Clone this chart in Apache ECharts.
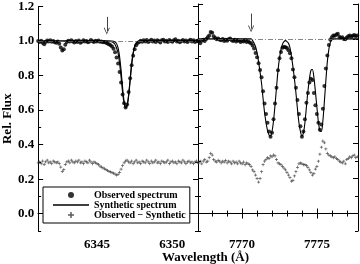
<!DOCTYPE html>
<html>
<head>
<meta charset="utf-8">
<script src="https://cdn.jsdelivr.net/npm/echarts@6/dist/echarts.min.js"></script>
<style>html,body{margin:0;padding:0;background:#fff}#main{width:360px;height:264px}</style>
</head>
<body>
<div id="main"></div>
<script>
// 光谱数据：等间隔采样，起点 + 步长 + 数值
var stepLeft = 0.1, startLeft = 6341.1;
var stepRight = 0.1, startRight = 7767.1;
var rangeLeft = [6341.1, 6351.7];
var rangeRight = [7767.05, 7777.75];

var obsLeft = [1.000,0.995,1.002,0.990,0.982,0.995,1.003,0.998,1.004,0.996,
  1.000,0.993,0.990,0.998,0.985,0.962,0.945,0.952,0.978,0.995,
  1.002,0.997,1.005,0.998,0.992,1.000,0.995,1.003,0.990,0.996,
  1.004,0.998,1.000,0.993,0.998,1.006,0.999,0.994,1.002,0.997,
  1.003,0.996,0.998,0.993,0.995,0.990,0.986,0.982,0.975,0.968,
  0.955,0.935,0.905,0.870,0.820,0.760,0.690,0.640,0.615,0.632,
  0.705,0.785,0.860,0.915,0.952,0.975,0.988,0.995,1.002,0.996,
  1.004,0.998,1.006,0.994,1.000,1.008,0.997,1.003,0.995,1.005,
  1.000,0.992,1.004,1.008,0.998,1.002,0.995,1.006,1.000,0.996,
  1.004,1.010,0.998,1.002,0.993,1.000,1.006,0.997,1.003,0.995,
  1.002,1.007,0.998,1.004,0.994,1.000,1.003];

var resLeft = [0.295,0.300,0.290,0.305,0.285,0.300,0.310,0.295,0.300,0.290,
  0.305,0.300,0.295,0.300,0.290,0.270,0.245,0.255,0.285,0.300,
  0.305,0.295,0.310,0.300,0.295,0.305,0.300,0.310,0.295,0.300,
  0.290,0.305,0.300,0.295,0.310,0.300,0.290,0.300,0.295,0.290,
  0.285,0.275,0.270,0.265,0.260,0.255,0.250,0.245,0.242,0.238,
  0.235,0.230,0.224,0.228,0.240,0.258,0.278,0.295,0.305,0.310,
  0.300,0.295,0.305,0.290,0.300,0.310,0.295,0.300,0.290,0.305,
  0.300,0.295,0.310,0.300,0.290,0.305,0.295,0.300,0.310,0.295,
  0.300,0.290,0.305,0.300,0.295,0.300,0.310,0.290,0.300,0.305,
  0.295,0.300,0.290,0.305,0.300,0.295,0.310,0.300,0.290,0.300,
  0.305,0.295,0.300,0.290,0.300,0.305,0.295];

var obsRight = [0.985,0.975,0.990,0.995,0.988,1.000,1.010,1.020,1.040,1.035,
  1.015,1.005,0.998,1.002,0.995,0.992,1.000,0.988,0.995,0.990,
  0.998,1.002,0.993,0.988,0.995,0.985,0.992,0.990,0.983,0.990,
  0.985,0.992,0.982,0.988,0.980,0.975,0.962,0.945,0.920,0.895,
  0.860,0.822,0.780,0.700,0.630,0.570,0.520,0.470,0.440,0.462,
  0.540,0.630,0.720,0.820,0.890,0.925,0.950,0.955,0.952,0.948,
  0.935,0.918,0.890,0.825,0.780,0.720,0.650,0.570,0.500,0.440,
  0.470,0.540,0.635,0.690,0.750,0.772,0.765,0.690,0.620,0.570,
  0.520,0.480,0.510,0.600,0.730,0.830,0.905,0.965,0.995,1.010,
  1.020,1.018,1.025,1.030,1.012,1.005,1.010,1.000,0.998,1.008,
  1.015,1.020,1.012,1.018,1.022,1.015,1.020];

var resRight = [0.290,0.300,0.285,0.300,0.310,0.295,0.300,0.320,0.345,0.335,
  0.310,0.300,0.295,0.305,0.300,0.290,0.300,0.295,0.305,0.290,
  0.300,0.295,0.285,0.300,0.290,0.295,0.285,0.300,0.290,0.285,
  0.295,0.280,0.290,0.285,0.280,0.270,0.250,0.240,0.220,0.200,
  0.180,0.200,0.240,0.280,0.300,0.310,0.320,0.315,0.330,0.325,
  0.335,0.330,0.310,0.290,0.285,0.280,0.270,0.260,0.250,0.235,
  0.220,0.205,0.185,0.190,0.215,0.240,0.265,0.285,0.290,0.285,
  0.280,0.280,0.275,0.265,0.250,0.235,0.220,0.230,0.255,0.270,
  0.300,0.340,0.380,0.415,0.405,0.370,0.345,0.335,0.330,0.325,
  0.320,0.325,0.315,0.310,0.300,0.295,0.290,0.300,0.285,0.310,
  0.315,0.325,0.320,0.330,0.335,0.320,0.325];

// 合成光谱（两条，左图）
var synLeftA = [[6341.1,1.0],[6346.0,1.0],[6346.2,0.995],[6346.3,0.985],[6346.4,0.96],[6346.5,0.91],
  [6346.6,0.83],[6346.7,0.73],[6346.8,0.65],[6346.9,0.615],[6347.0,0.625],[6347.1,0.68],[6347.2,0.77],
  [6347.3,0.86],[6347.4,0.93],[6347.5,0.97],[6347.6,0.99],[6347.8,1.0],[6351.7,1.0]];
var synLeftB = [[6341.1,1.0],[6345.8,1.0],[6346.0,0.995],[6346.1,0.99],[6346.2,0.98],[6346.3,0.96],
  [6346.4,0.93],[6346.5,0.87],[6346.6,0.79],[6346.7,0.70],[6346.8,0.64],[6346.9,0.615],[6347.0,0.63],
  [6347.1,0.69],[6347.2,0.78],[6347.3,0.87],[6347.4,0.93],[6347.5,0.965],[6347.6,0.985],[6347.7,0.995],
  [6347.9,1.0],[6351.7,1.0]];
var synRight = [[7767.05,1.0],[7770.6,1.0],[7770.7,0.99],[7770.8,0.975],[7770.9,0.955],[7771.0,0.92],
  [7771.1,0.87],[7771.2,0.81],[7771.3,0.745],[7771.4,0.66],[7771.5,0.58],[7771.6,0.52],[7771.7,0.475],
  [7771.8,0.45],[7771.9,0.445],[7772.0,0.47],[7772.1,0.53],[7772.2,0.62],[7772.3,0.72],[7772.4,0.82],
  [7772.5,0.89],[7772.6,0.94],[7772.7,0.97],[7772.8,0.985],[7772.9,0.99],[7773.0,0.985],[7773.1,0.975],
  [7773.2,0.95],[7773.3,0.9],[7773.4,0.84],[7773.5,0.77],[7773.6,0.69],[7773.7,0.6],[7773.8,0.52],
  [7773.9,0.47],[7774.0,0.445],[7774.1,0.46],[7774.2,0.52],[7774.3,0.61],[7774.4,0.70],[7774.5,0.77],
  [7774.6,0.82],[7774.7,0.825],[7774.8,0.78],[7774.9,0.7],[7775.0,0.61],[7775.1,0.525],[7775.2,0.475],
  [7775.3,0.47],[7775.4,0.53],[7775.5,0.64],[7775.6,0.76],[7775.7,0.87],[7775.8,0.94],[7775.9,0.98],
  [7776.0,0.995],[7776.2,1.0],[7777.75,1.0]];

// 箭头位置 [波长, 顶端, 尖端]
var arrowLeft = [6345.65, 1.14, 1.058];
var arrowRight = [7770.6, 1.145, 1.058];

// 刻度
var yMajor = [0.0, 0.2, 0.4, 0.6, 0.8, 1.0, 1.2];
var yMinor = [-0.1, 0.1, 0.3, 0.5, 0.7, 0.9, 1.1];
var xMajorLeft = [6345, 6350];
var xMinorLeft = [6342, 6343, 6344, 6346, 6347, 6348, 6349, 6351];
var xMajorRight = [7770, 7775];
var xMinorRight = [7768, 7769, 7771, 7772, 7773, 7774, 7776, 7777];

var FONT = '"Liberation Serif", "Times New Roman", serif';

function spectrum(start, step, vals) {
    return vals.map(function (v, i) { return [+(start + i * step).toFixed(2), v]; });
}

function xAx(grid, pos, ticks, len, labels, range) {
    return {
        type: 'value', gridIndex: grid, position: pos, min: range[0], max: range[1],
        axisLine: { show: len > 3, lineStyle: { color: '#000', width: 1 } },
        axisTick: { show: true, inside: true, length: len, customValues: ticks, lineStyle: { color: '#000' } },
        axisLabel: labels ? { show: true, customValues: labels, margin: 7, color: '#000',
            fontFamily: FONT, fontWeight: 'bold', fontSize: 13,
            formatter: function (v) { return String(v); } } : { show: false },
        splitLine: { show: false }
    };
}
function yAx(grid, pos, ticks, len, labels) {
    return {
        type: 'value', gridIndex: grid, position: pos, min: -0.1, max: 1.2,
        axisLine: { show: len > 3, lineStyle: { color: '#000', width: 1 } },
        axisTick: { show: true, inside: true, length: len, customValues: ticks, lineStyle: { color: '#000' } },
        axisLabel: labels ? { show: true, customValues: labels, margin: 4, color: '#000',
            fontFamily: FONT, fontWeight: 'bold', fontSize: 13,
            formatter: function (v) { return v.toFixed(1); } } : { show: false },
        splitLine: { show: false }
    };
}

var xAxes = [
    xAx(0, 'bottom', xMajorLeft, 5, xMajorLeft, rangeLeft),
    xAx(0, 'bottom', xMinorLeft, 3, null, rangeLeft),
    xAx(0, 'top', xMajorLeft, 5, null, rangeLeft),
    xAx(0, 'top', xMinorLeft, 3, null, rangeLeft),
    xAx(1, 'bottom', xMajorRight, 5, xMajorRight, rangeRight),
    xAx(1, 'bottom', xMinorRight, 3, null, rangeRight),
    xAx(1, 'top', xMajorRight, 5, null, rangeRight),
    xAx(1, 'top', xMinorRight, 3, null, rangeRight)
];
var yAxes = [
    yAx(0, 'left', yMajor, 5, yMajor),
    yAx(0, 'left', yMinor, 3, null),
    yAx(0, 'right', yMajor, 5, null),
    yAx(0, 'right', yMinor, 3, null),
    yAx(1, 'left', yMajor, 5, null),
    yAx(1, 'left', yMinor, 3, null),
    yAx(1, 'right', yMajor, 5, null),
    yAx(1, 'right', yMinor, 3, null)
];
yAxes[0].name = 'Rel. Flux';
yAxes[0].nameLocation = 'middle';
yAxes[0].nameGap = 24;
yAxes[0].nameTextStyle = { color: '#000', fontFamily: FONT, fontWeight: 'bold', fontSize: 13 };

var plusPath = 'path://M3,0H5V3H8V5H5V8H3V5H0V3H3Z';
var arrowPath = 'path://M5,0L10,9L8.8,9.6L5,2.6L1.2,9.6L0,9Z';
var dashDot = { color: '#666', width: 0.8, type: [5, 2, 1, 2] };

function arrowLine(a) {
    return [{ coord: [a[0], a[1]], symbol: 'none' },
            { coord: [a[0], a[2]], symbol: arrowPath, symbolSize: [6, 7] }];
}

function panelSeries(xi, obs, res, start, step, syns, arrow) {
    var list = [{
        name: 'Observed − Synthetic', type: 'scatter', xAxisIndex: xi, yAxisIndex: xi,
        symbol: plusPath, symbolSize: 3, itemStyle: { color: '#333' },
        data: spectrum(start, step, res),
        markLine: {
            silent: true, symbol: ['none', 'none'], label: { show: false },
            lineStyle: dashDot,
            data: [{ yAxis: 1.0 }, arrowLine(arrow)].map(function (d, k) {
                if (k === 1) {
                    d[0].lineStyle = { color: '#444', width: 1, type: 'solid' };
                }
                return d;
            })
        }
    }];
    syns.forEach(function (s) {
        list.push({
            name: 'Synthetic spectrum', type: 'line', xAxisIndex: xi, yAxisIndex: xi,
            showSymbol: false, smooth: 0.3, itemStyle: { color: '#000' },
            lineStyle: { color: '#000', width: 1.1 }, data: s
        });
    });
    list.push({
        name: 'Observed spectrum', type: 'scatter', xAxisIndex: xi, yAxisIndex: xi,
        symbol: 'circle', symbolSize: 4, itemStyle: { color: '#000' },
        data: spectrum(start, step, obs)
    });
    return list;
}

var myChart = echarts.init(document.getElementById('main'));
var option = {
    animation: false,
    backgroundColor: '#fff',
    title: {
        text: 'Wavelength (Å)', left: 162, top: 251, padding: 0,
        textStyle: { color: '#000', fontFamily: FONT, fontWeight: 'bold', fontSize: 13 }
    },
    grid: [
        { left: 37, top: 4, width: 161, height: 227 },
        { left: 198, top: 4, width: 160, height: 227 }
    ],
    legend: {
        left: 43, top: 187, orient: 'vertical',
        itemWidth: 36, itemHeight: 6, itemGap: 0,
        padding: [3, 4, 3, 10],
        borderColor: '#000', borderWidth: 1, backgroundColor: '#fff',
        textStyle: { color: '#000', fontFamily: FONT, fontWeight: 'bold', fontSize: 10, lineHeight: 9 },
        data: [
            { name: 'Observed spectrum', icon: 'circle' },
            { name: 'Synthetic spectrum', icon: 'path://M0,0H36V1.6H0Z' },
            { name: 'Observed − Synthetic', icon: plusPath }
        ]
    },
    xAxis: xAxes,
    yAxis: yAxes,
    series: panelSeries(0, obsLeft, resLeft, startLeft, stepLeft, [synLeftA, synLeftB], arrowLeft)
        .concat(panelSeries(4, obsRight, resRight, startRight, stepRight, [synRight], arrowRight))
};
myChart.setOption(option);
</script>
</body>
</html>
